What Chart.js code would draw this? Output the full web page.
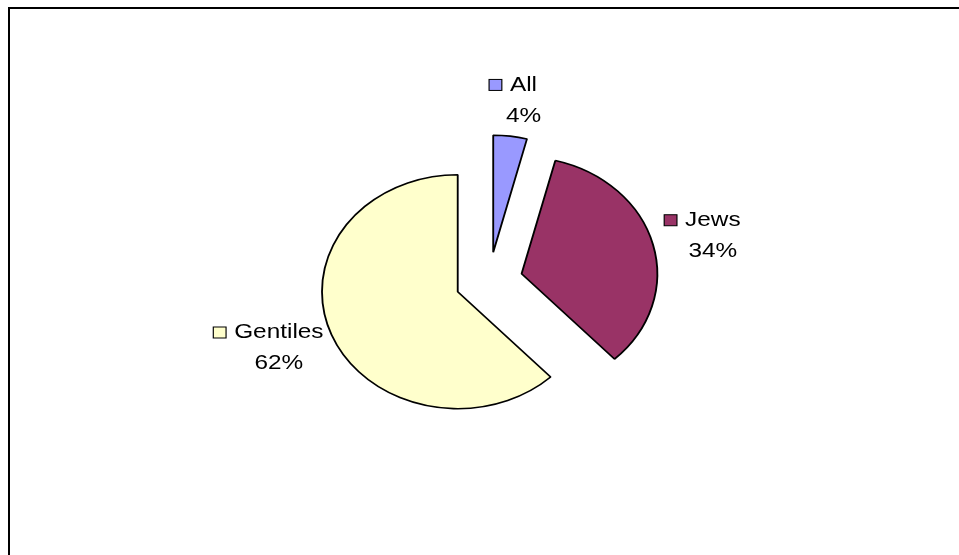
<!DOCTYPE html>
<html>
<head>
<meta charset="utf-8">
<script src="https://cdn.jsdelivr.net/npm/chart.js@4/dist/chart.umd.min.js"></script>
<style>
  html, body { margin: 0; padding: 0; background: #fff; }
  #wrap { position: relative; width: 959px; height: 555px; overflow: hidden; }
  #frame { position: absolute; left: 8px; top: 7px; width: 1000px; height: 600px;
           border-top: 2px solid #000; border-left: 2px solid #000; }
  #pieChart { position: absolute; left: 0; top: 0; }
</style>
</head>
<body>
<div id="wrap">
  <div id="frame"></div>
  <canvas id="pieChart" width="959" height="555"></canvas>
</div>
<script>
// data
var groups = ['All', 'Jews', 'Gentiles'];
var shares = [4, 34, 62];
var sliceColors = ['#9999FF', '#993366', '#FFFFCC'];

// the original pie is drawn a bit wider than tall
var stretchX = 1.16;
// every slice is pulled out by the same distance
var explode = 29;

var total = shares.reduce(function(s, v) { return s + v; }, 0);

// draw the arcs ourselves: stretched sideways and each one pushed out along its middle angle
var explodePlugin = {
  id: 'explode',
  beforeDatasetDraw: function(chart, args) {
    var a = chart.chartArea;
    var cx = (a.left + a.right) / 2;
    var ctx = chart.ctx;
    ctx.save();
    ctx.translate(cx, 0);
    ctx.scale(stretchX, 1);
    ctx.translate(-cx, 0);
    args.meta.data.forEach(function(arc) {
      var mid = (arc.startAngle + arc.endAngle) / 2;
      ctx.save();
      ctx.translate(Math.cos(mid) * explode, Math.sin(mid) * explode);
      arc.draw(ctx, a);
      ctx.restore();
    });
    ctx.restore();
    return false;
  }
};

var labelPlugin = {
  id: 'sliceLabels',
  afterDraw: function(chart) {
    var ctx = chart.ctx;
    var meta = chart.getDatasetMeta(0);
    var sq = 11, gap = 7, lineGap = 31, pad = 11, halfH = 25;
    ctx.save();
    ctx.font = '21px "Liberation Sans", Arial, sans-serif';
    ctx.textBaseline = 'middle';
    ctx.textAlign = 'center';
    meta.data.forEach(function(arc, i) {
      var mid = (arc.startAngle + arc.endAngle) / 2;
      var dx = Math.cos(mid), dy = Math.sin(mid);
      var rOut = arc.outerRadius + explode;
      var line1 = groups[i];
      var line2 = Math.round(shares[i] / total * 100) + '%';
      var w1 = ctx.measureText(line1).width;
      var w2 = ctx.measureText(line2).width;
      var sqLeft = -w1 / 2 - gap - sq;
      var left = Math.min(sqLeft, -w2 / 2);
      var right = Math.max(w1 / 2, w2 / 2);
      var halfW = (right - left) / 2;
      var boxMid = (left + right) / 2;
      var bx = dx * (rOut + pad) + dx * halfW;
      var by = dy * (rOut + pad) + dy * halfH;
      var tx = bx - boxMid;
      ctx.save();
      ctx.translate(arc.x + tx * stretchX, arc.y + by);
      ctx.scale(stretchX, 1);
      ctx.fillStyle = sliceColors[i];
      ctx.fillRect(sqLeft, -lineGap / 2 - sq / 2, sq, sq);
      ctx.strokeStyle = '#000';
      ctx.lineWidth = 1;
      ctx.strokeRect(sqLeft, -lineGap / 2 - sq / 2, sq, sq);
      ctx.fillStyle = '#000';
      ctx.fillText(line1, 0, -lineGap / 2);
      ctx.fillText(line2, 0, lineGap / 2);
      ctx.restore();
    });
    ctx.restore();
  }
};

new Chart(document.getElementById('pieChart'), {
  type: 'pie',
  data: {
    labels: groups,
    datasets: [
      {
        data: shares,
        backgroundColor: sliceColors,
        borderColor: '#000',
        borderWidth: 1.6,
        offset: 0,
        hoverOffset: 0
      }
    ]
  },
  options: {
    responsive: false,
    animation: false,
    radius: 117,
    layout: { padding: { left: 30, right: 11, top: 10, bottom: 3 } },
    plugins: {
      legend: { display: false },
      tooltip: { enabled: false }
    },
    events: []
  },
  plugins: [explodePlugin, labelPlugin]
});
</script>
</body>
</html>
